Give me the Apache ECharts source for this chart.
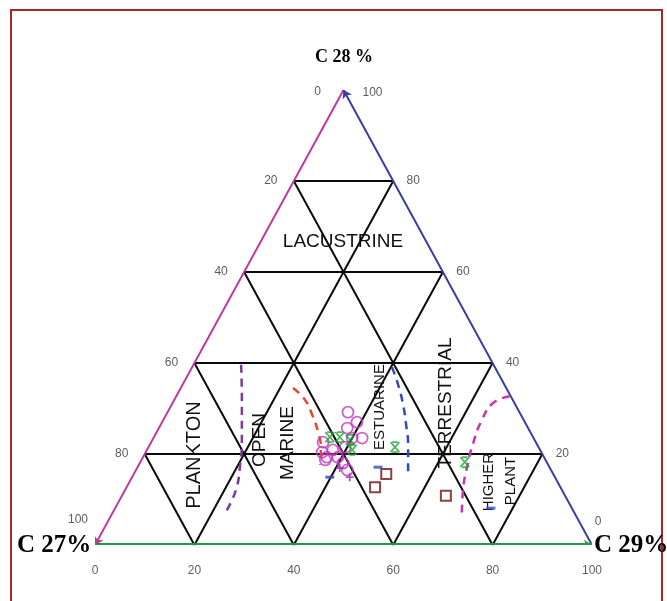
<!DOCTYPE html>
<html>
<head>
<meta charset="utf-8">
<script src="https://cdn.jsdelivr.net/npm/echarts@6/dist/echarts.min.js"></script>
<style>
  html, body { margin: 0; padding: 0; background: #fff; }
  #main { width: 667px; height: 601px; }
</style>
</head>
<body>
<div id="main"></div>
<script>
// ternary values are [C27, C28, C29]
const gridSteps = [20, 40, 60, 80];
const tickValues = [0, 20, 40, 60, 80, 100];

const circles = [
  [34.5, 29.2, 36.3], [33.8, 27.0, 39.2], [36.4, 25.7, 37.9], [34.5, 23.5, 42.0],
  [36.5, 23.5, 40.0], [42.8, 22.6, 34.6], [41.7, 20.9, 37.4], [43.7, 19.3, 37.0],
  [41.5, 19.3, 39.2], [41.1, 18.0, 40.9], [41.0, 16.5, 42.5], [44.3, 18.7, 37.0],
  [38.9, 21.5, 39.6], [44.1, 20.4, 35.5]
];
const stars = [
  [40.9, 23.7, 35.4], [38.9, 23.7, 37.4], [37.1, 23.1, 39.8], [37.8, 20.9, 41.3],
  [28.9, 21.5, 49.6], [16.5, 18.2, 65.3]
];
const pluses = [[41.3, 14.9, 43.8], [42.3, 16.9, 40.8]];
const squares = [[37.3, 12.7, 50.0], [33.6, 15.6, 50.8], [24.0, 10.8, 65.2]];
const blueTicks = [[45.3, 14.9, 39.8], [34.5, 17.1, 48.4], [16.3, 8.1, 75.6]];

const redCurve = [
  [42.9, 34.5, 22.6], [41.8, 31.9, 26.3], [42.0, 28.6, 29.4],
  [42.7, 24.8, 32.5], [43.9, 21.3, 34.8], [45.9, 17.6, 36.5]
];
const blueCurve = [
  [20.7, 39.1, 40.2], [21.4, 35.2, 43.4], [22.6, 30.8, 46.6],
  [24.2, 26.4, 49.4], [26.0, 22.0, 52.0], [29.3, 15.4, 55.3]
];
const purpleCurve = [
  [50.8, 39.6, 9.6], [54.5, 31.9, 13.6], [58.9, 23.1, 18.0],
  [62.0, 17.6, 20.4], [65.6, 12.1, 22.3], [70.0, 7.3, 22.7]
];
const magentaCurve = [
  [0.2, 32.7, 67.1], [4.3, 31.2, 64.5], [8.4, 27.5, 64.1], [12.7, 22.4, 64.9],
  [16.6, 17.1, 66.3], [19.9, 12.1, 68.0], [23.1, 6.2, 70.7]
];

function tern(a, b, c) {
  return [c + b / 2, b];
}
const toXY = arr => arr.map(p => tern(p[0], p[1], p[2]));

const gridLines = [];
gridSteps.forEach(v => {
  gridLines.push({ coords: [tern(100 - v, v, 0), tern(0, v, 100 - v)] });
  gridLines.push({ coords: [tern(100 - v, 0, v), tern(0, 100 - v, v)] });
  gridLines.push({ coords: [tern(v, 0, 100 - v), tern(v, 100 - v, 0)] });
});

const labelFont = { fontFamily: 'Liberation Sans, Arial', fontSize: 12, color: '#333' };

const leftLabels = tickValues.map(v => ({
  value: tern(v, 100 - v, 0),
  label: { formatter: String(v), offset: v === 100 ? [-17, -25] : (v === 0 ? [-26, 2] : [-23, 0]) }
}));
const rightLabels = tickValues.map(v => ({
  value: tern(0, v, 100 - v),
  label: { formatter: String(v), offset: v === 100 ? [29, 3] : (v === 0 ? [6, -23] : [20, 0]) }
}));
const bottomLabels = tickValues.map(v => ({
  value: tern(100 - v, 0, v),
  label: { formatter: String(v), offset: [0, 26] }
}));

function tickSeries(data) {
  return {
    type: 'scatter', symbol: 'circle', symbolSize: 1, silent: true, data: data, z: 7,
    itemStyle: { color: 'rgba(0,0,0,0)' },
    label: Object.assign({ show: true, position: 'inside' }, labelFont)
  };
}

function curve(data, color) {
  return {
    type: 'line', data: toXY(data), smooth: true, symbol: 'none', silent: true, z: 4,
    lineStyle: { color: color, width: 2.5, type: [8, 6] }
  };
}

const starPath = 'path://M2,0L8,0M2,10L8,10M0,0L10,10M10,0L0,10';
const regionFont = 'Liberation Sans, Arial';

function vText(text, x, y, size) {
  return {
    type: 'text', x: x, y: y, rotation: Math.PI / 2,
    style: { text: text, fill: '#111', font: size + 'px ' + regionFont, align: 'center', verticalAlign: 'middle' }
  };
}

const option = {
  animation: false,
  grid: { left: 95, right: 75, top: 90, bottom: 56 },
  xAxis: { type: 'value', min: 0, max: 100, show: false },
  yAxis: { type: 'value', min: 0, max: 100, show: false },
  series: [
    {
      type: 'lines', coordinateSystem: 'cartesian2d', silent: true, z: 2,
      data: gridLines, lineStyle: { color: '#0a0a0a', width: 2, opacity: 1 }
    },
    {
      type: 'lines', coordinateSystem: 'cartesian2d', silent: true, z: 3,
      symbol: ['none', 'arrow'], symbolSize: 8,
      data: [
        { coords: [tern(0, 100, 0), tern(100, 0, 0)], lineStyle: { color: '#c2379e', width: 2 } },
        { coords: [tern(0, 0, 100), tern(0, 100, 0)], lineStyle: { color: '#3b3ba6', width: 2 } },
        { coords: [tern(100, 0, 0), tern(0, 0, 100)], lineStyle: { color: '#1f9a3c', width: 4 } }
      ],
      lineStyle: { opacity: 1 }
    },
    tickSeries(leftLabels),
    tickSeries(rightLabels),
    tickSeries(bottomLabels),
    curve(redCurve, '#e8462e'),
    curve(blueCurve, '#3548c2'),
    curve(purpleCurve, '#7a3c9c'),
    curve(magentaCurve, '#cc32aa'),
    {
      type: 'scatter', data: toXY(circles), symbol: 'circle', symbolSize: 11, z: 5,
      itemStyle: { color: 'rgba(0,0,0,0)', borderColor: '#c03cc0', borderWidth: 1.8 }
    },
    {
      type: 'scatter', data: toXY(stars), symbol: starPath, symbolSize: [9, 10], z: 6,
      itemStyle: { color: 'rgba(0,0,0,0)', borderColor: '#1fa335', borderWidth: 1.8 }
    },
    {
      type: 'scatter', data: toXY(pluses), symbol: 'path://M5,0L5,10M0,5L10,5', symbolSize: 8, z: 6,
      itemStyle: { color: 'rgba(0,0,0,0)', borderColor: '#9a2aa8', borderWidth: 1.8 }
    },
    {
      type: 'scatter', data: toXY(squares), symbol: 'rect', symbolSize: 10, z: 6,
      itemStyle: { color: 'rgba(0,0,0,0)', borderColor: '#6e1414', borderWidth: 2 }
    },
    {
      type: 'scatter', data: toXY(blueTicks), symbol: 'rect', symbolSize: [9, 3], z: 6,
      itemStyle: { color: '#3548c2' }
    }
  ],
  graphic: [
    { type: 'rect', shape: { x: 11, y: 10, width: 651, height: 610 }, style: { fill: 'none', stroke: '#a3292b', lineWidth: 2 }, silent: true },
    { type: 'text', x: 344, y: 57, style: { text: 'C 28 %', fill: '#000', font: 'bold 18px Liberation Serif, Times New Roman, serif', align: 'center', verticalAlign: 'middle' } },
    { type: 'text', x: 17, y: 546, style: { text: 'C 27%', fill: '#000', font: 'bold 25px Liberation Serif, Times New Roman, serif', align: 'left', verticalAlign: 'middle' } },
    { type: 'text', x: 594, y: 546, style: { text: 'C 29%', fill: '#000', font: 'bold 25px Liberation Serif, Times New Roman, serif', align: 'left', verticalAlign: 'middle' } },
    { type: 'text', x: 343, y: 242, style: { text: 'LACUSTRINE', fill: '#111', font: '19px ' + regionFont, align: 'center', verticalAlign: 'middle' } },
    vText('PLANKTON', 194, 455, 20),
    vText('OPEN', 260, 440, 19),
    vText('MARINE', 288, 443, 19),
    vText('ESTUARINE', 380, 407, 15),
    vText('TERRESTRIAL', 446, 403, 19),
    vText('HIGHER', 489, 482, 15),
    vText('PLANT', 511, 481, 15)
  ]
};

const myChart = echarts.init(document.getElementById('main'));
myChart.setOption(option);
</script>
</body>
</html>
